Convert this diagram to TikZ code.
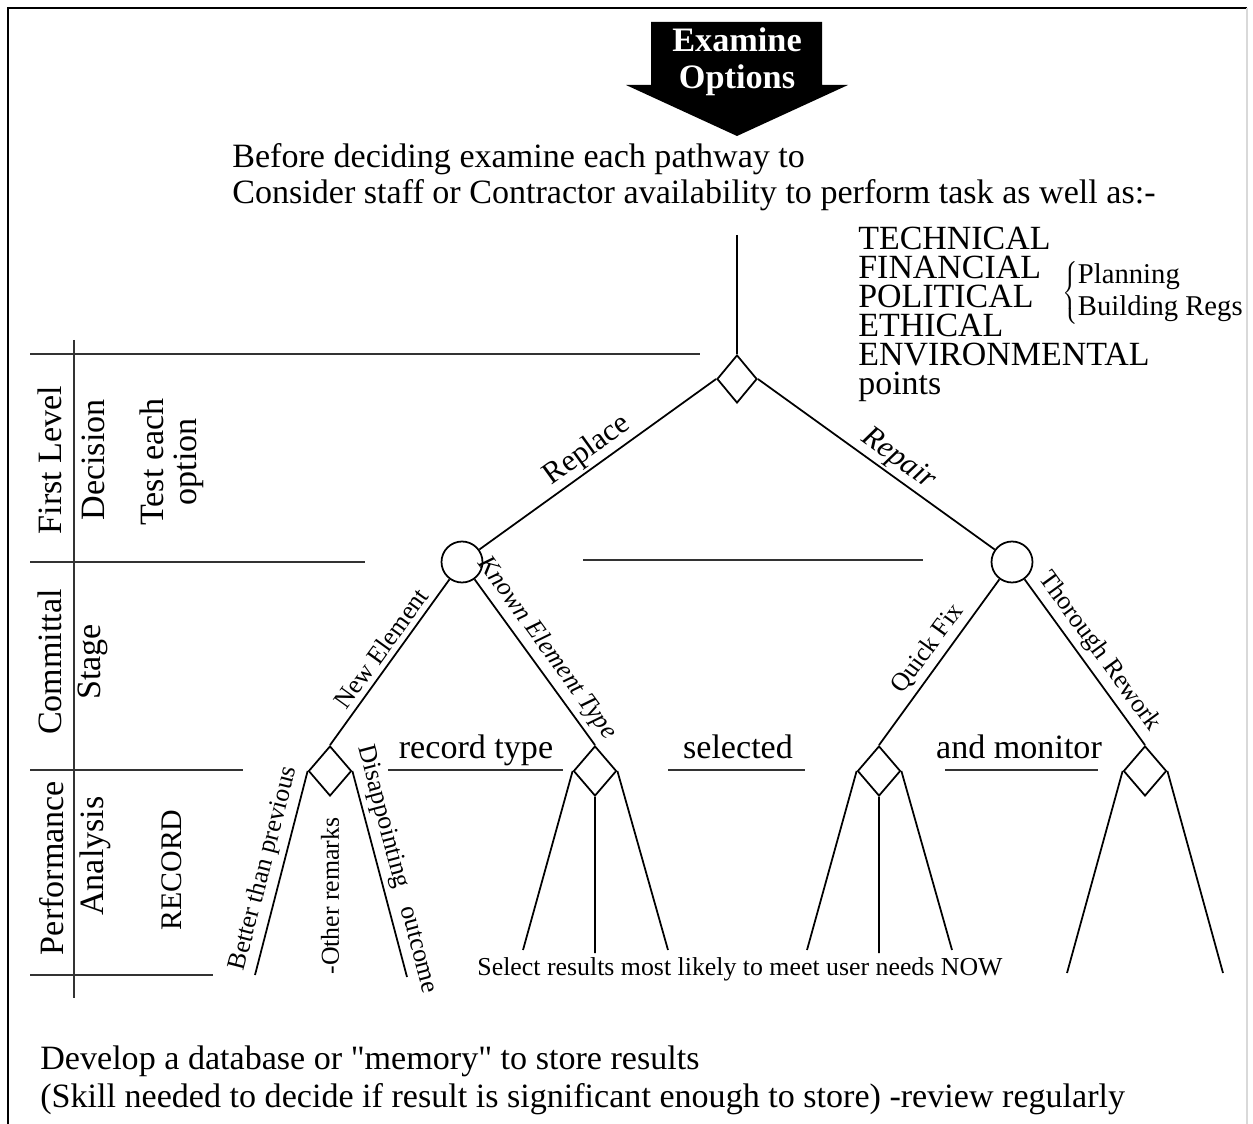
\documentclass[tikz,border=0pt]{standalone}
\usepackage{fontspec}
\setmainfont{Liberation Serif}[Ligatures=TeXOff]
\usetikzlibrary{shapes.geometric,positioning}

\begin{document}
\begin{tikzpicture}[x=0.02cm,y=-0.02cm,
	tree/.style={line width=1pt},
	rule/.style={line width=0.7pt,black!80},
	choice/.style={diamond,draw,line width=1pt,minimum width=0.86cm,minimum height=1cm,inner sep=0pt},
	chance/.style={circle,draw,line width=1pt,minimum size=0.82cm,inner sep=0pt},
	branch/.style={sloped,above,inner sep=3pt,font=\fontsize{14.7}{16}\selectfont},
	branchit/.style={branch,font=\fontsize{14.7}{16}\selectfont\itshape},
	side/.style={rotate=90,align=center,font=\fontsize{19.4}{19}\selectfont}]

	\useasboundingbox (0,0) rectangle (1253,1124);
	\draw[line width=1.1pt] (8,1124) -- (8,8) -- (1247,8);
	\draw[black!15,line width=0.6pt] (1247,8) -- (1247,1124);

	% heading arrow
	\fill (651,22) -- (822,22) -- (822,85) -- (848,85) -- (737,136) -- (626,85) -- (651,85) -- cycle;
	\node[anchor=north,inner sep=0pt,text=white,align=center,font=\fontsize{19.5}{21.5}\selectfont\bfseries] (examine) at (737,27) {Examine\\Options};

	\node[anchor=north west,inner sep=0pt,align=left,font=\fontsize{19.4}{20.4}\selectfont] (intro) at (232,143) {Before deciding examine each pathway to\\Consider staff or Contractor availability to perform task as well as:-};

	\node[anchor=north west,inner sep=0pt,align=left,font=\fontsize{19.3}{16.45}\selectfont] (points) at (858,227) {TECHNICAL\\FINANCIAL\\POLITICAL\\ETHICAL\\ENVIRONMENTAL\\points};
	\node[anchor=west,inner sep=0pt,font=\fontsize{16.3}{18.1}\selectfont] (regs) at (1062,293) {$\left\{\begin{tabular}{@{}l@{}}Planning\\Building Regs\end{tabular}\right.$};

	% stage rules
	\draw[rule] (30,354) -- (700,354);
	\draw[rule] (30,562) -- (365,562);
	\draw[rule] (583,560) -- (923,560);
	\draw[rule] (30,770) -- (243,770);
	\draw[rule] (30,975) -- (213,975);
	\draw[rule] (74,340) -- (74,998);

	\node[side] (level) at (50,460) {First Level};
	\node[side] (decision) at (93,460) {Decision};
	\node[side] (test) at (172,462) {Test each\\option};
	\node[side] (committal) at (50,662) {Committal};
	\node[side] (stage) at (93,662) {Stage};
	\node[side] (perf) at (52,868) {Performance};
	\node[side] (analysis) at (95,856) {Analysis};
	\node[side,font=\fontsize{17}{19}\selectfont] (record) at (172,870) {RECORD};

	% first level
	\coordinate (stem) at (737,235);
	\node[choice,minimum width=0.8cm,minimum height=0.96cm] (topd) at (737,379) {};
	\draw[tree] (stem) -- (topd.north);
	\node[chance] (lc) at (462,562) {};
	\node[chance] (rc) at (1012,562) {};
	\draw[tree] (topd.west) -- node[branch,pos=0.5,inner sep=1.5pt,font=\fontsize{17.5}{19}\selectfont] {Replace} (lc);
	\draw[tree] (topd.east) -- node[branch,pos=0.55,inner sep=1.5pt,font=\fontsize{17.5}{19}\selectfont\itshape] {Repair} (rc);

	% committal
	\node[choice] (d1) at (330,771) {};
	\node[choice] (d2) at (595,771) {};
	\node[choice] (d3) at (879,771) {};
	\node[choice] (d4) at (1145,771) {};
	\draw[tree] (lc) -- node[branch,pos=0.47] {New Element} (d1.north);
	\draw[tree] (lc) -- node[branchit,pos=0.48] {Known Element Type} (d2.north);
	\draw[tree] (rc) -- node[branch,pos=0.48] {Quick Fix} (d3.north);
	\draw[tree] (rc) -- node[branch,pos=0.5] {Thorough Rework} (d4.north);

	\node[anchor=base,font=\fontsize{19.4}{20}\selectfont] (rectype) at (476,758) {record type};
	\node[anchor=base,font=\fontsize{19.4}{20}\selectfont] (selected) at (738,758) {selected};
	\node[anchor=base,font=\fontsize{19.4}{20}\selectfont] (monitor) at (1019,758) {and monitor};
	\draw[rule] (388,770) -- (563,770);
	\draw[rule] (668,770) -- (805,770);
	\draw[rule] (945,770) -- (1098,770);

	% performance
	\coordinate (l1) at (255,975);
	\coordinate (l2) at (407,977);
	\coordinate (l3) at (523,950);
	\coordinate (l4) at (595,953);
	\coordinate (l5) at (668,950);
	\coordinate (l6) at (807,950);
	\coordinate (l7) at (879,953);
	\coordinate (l8) at (952,950);
	\coordinate (l9) at (1067,973);
	\coordinate (l10) at (1223,973);
	\draw[tree] (d1.west) -- node[branch] {Better than previous} (l1);
	\draw[tree] (d1.east) -- node[branch] {Disappointing~~ outcome} (l2);
	\node[rotate=90,font=\fontsize{14.7}{16}\selectfont] (other) at (330,896) {-Other remarks};
	\draw[tree] (d2.west) -- (l3) (d2.south) -- (l4) (d2.east) -- (l5);
	\draw[tree] (d3.west) -- (l6) (d3.south) -- (l7) (d3.east) -- (l8);
	\draw[tree] (d4.west) -- (l9) (d4.east) -- (l10);
	\node[anchor=base,font=\fontsize{14.7}{16}\selectfont] (select) at (740,975) {Select results most likely to meet user needs NOW};

	\node[anchor=north west,inner sep=0pt,align=left,font=\fontsize{19.4}{22.1}\selectfont] (memory) at (40,1045) {Develop a database or "memory" to store results\\(Skill needed to decide if result is significant enough to store) -review regularly};

\end{tikzpicture}
\end{document}
